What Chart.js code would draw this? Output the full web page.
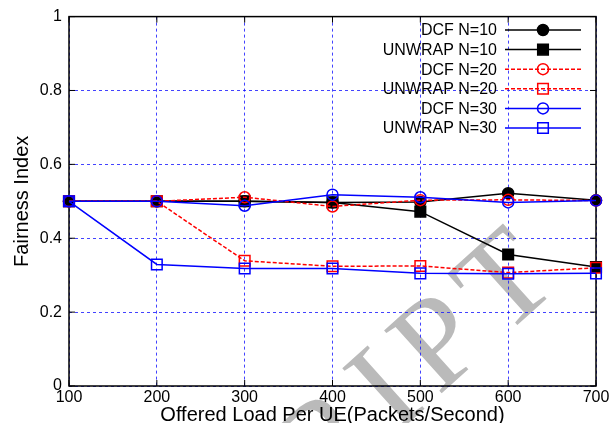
<!DOCTYPE html>
<html>
<head>
<meta charset="utf-8">
<script src="https://cdn.jsdelivr.net/npm/chart.js@4/dist/chart.umd.min.js"></script>
<style>
  html, body { margin: 0; padding: 0; background: #fff; }
  #wrap { width: 614px; height: 423px; }
</style>
</head>
<body>
<div id="wrap"><canvas id="fairness-chart"></canvas></div>
<script>
// offered load per UE (packets/second)
var loadValues = [100, 200, 300, 400, 500, 600, 700];
var yTicks = [0, 0.2, 0.4, 0.6, 0.8, 1];

var seriesNames = ['DCF N=10', 'UNWRAP N=10', 'DCF N=20', 'UNWRAP N=20', 'DCF N=30', 'UNWRAP N=30'];
var dcf10 = [0.5, 0.5, 0.5, 0.497, 0.498, 0.522, 0.503];
var unwrap10 = [0.5, 0.5, 0.5, 0.497, 0.472, 0.356, 0.322];
var dcf20 = [0.5, 0.5, 0.511, 0.486, 0.503, 0.504, 0.502];
var unwrap20 = [0.5, 0.5, 0.339, 0.324, 0.325, 0.307, 0.32];
var dcf30 = [0.5, 0.5, 0.488, 0.518, 0.511, 0.497, 0.502];
var unwrap30 = [0.5, 0.329, 0.318, 0.318, 0.305, 0.304, 0.305];

function toPoints(values) {
    return loadValues.map(function (x, i) { return { x: x, y: values[i] }; });
}

function makeDataset(index, values, color, marker, filled, dash) {
    return {
        label: seriesNames[index],
        data: toPoints(values),
        borderColor: color,
        backgroundColor: filled ? color : 'rgba(0,0,0,0)',
        borderWidth: 1.5,
        borderDash: dash,
        pointStyle: marker,
        pointRadius: marker === 'rect' ? 7.5 : 5.5,
        pointBorderWidth: 1.5,
        pointBackgroundColor: filled ? color : 'rgba(0,0,0,0)',
        pointBorderColor: color,
        pointHoverRadius: marker === 'rect' ? 7.5 : 5.5,
        tension: 0,
        fill: false,
        clip: false,
        order: 6 - index
    };
}

var FONT = "'Liberation Sans', Arial, Helvetica, sans-serif";

// white page plus the grey diagonal stamp underneath everything;
// letters are laid out backwards from the last one so the spacing can be opened up
var backdrop = {
    id: 'backdrop',
    beforeDraw: function (chart) {
        var ctx = chart.ctx;
        var stamp = 'USCRIPT';
        var gap = 14;
        ctx.save();
        ctx.fillStyle = '#fff';
        ctx.fillRect(0, 0, chart.width, chart.height);
        ctx.translate(532, 312);
        ctx.rotate(-42 * Math.PI / 180);
        ctx.font = "130px 'Liberation Serif', 'Times New Roman', serif";
        ctx.fillStyle = '#bababa';
        ctx.textAlign = 'center';
        ctx.textBaseline = 'alphabetic';
        var pos = 0;
        for (var i = stamp.length - 1; i >= 0; i--) {
            var w = ctx.measureText(stamp[i]).width;
            if (i < stamp.length - 1) {
                pos -= w / 2 + gap;
            }
            ctx.fillText(stamp[i], pos, 0);
            pos -= w / 2;
        }
        ctx.restore();
    }
};

// black box round the plot with small inward ticks on every side
var frame = {
    id: 'frame',
    beforeDatasetsDraw: function (chart) {
        var ctx = chart.ctx;
        var a = chart.chartArea;
        var xs = chart.scales.x, ys = chart.scales.y;
        ctx.save();
        ctx.strokeStyle = '#000';
        ctx.lineWidth = 1.5;
        ctx.setLineDash([]);
        ctx.strokeRect(a.left, a.top, a.right - a.left, a.bottom - a.top);
        ctx.lineWidth = 1;
        ctx.beginPath();
        loadValues.forEach(function (v) {
            var px = xs.getPixelForValue(v);
            ctx.moveTo(px, a.bottom); ctx.lineTo(px, a.bottom - 6);
            ctx.moveTo(px, a.top); ctx.lineTo(px, a.top + 6);
        });
        yTicks.forEach(function (v) {
            var py = ys.getPixelForValue(v);
            ctx.moveTo(a.left, py); ctx.lineTo(a.left + 6, py);
            ctx.moveTo(a.right, py); ctx.lineTo(a.right - 6, py);
        });
        ctx.stroke();
        ctx.restore();
    }
};

// gnuplot style key: right aligned text followed by a line sample with its marker
var key = {
    id: 'key',
    afterDatasetsDraw: function (chart) {
        var ctx = chart.ctx;
        ctx.save();
        ctx.font = '16px ' + FONT;
        ctx.textAlign = 'right';
        ctx.textBaseline = 'middle';
        chart.data.datasets.forEach(function (ds, i) {
            var y = 30 + i * 19.6;
            ctx.fillStyle = '#000';
            ctx.fillText(ds.label, 497, y + 1);
            ctx.strokeStyle = ds.borderColor;
            ctx.lineWidth = ds.borderWidth;
            ctx.setLineDash(ds.borderDash || []);
            ctx.beginPath();
            ctx.moveTo(505, y);
            ctx.lineTo(581, y);
            ctx.stroke();
            ctx.setLineDash([]);
            ctx.lineWidth = ds.pointBorderWidth;
            ctx.beginPath();
            if (ds.pointStyle === 'rect') {
                var s = ds.pointRadius * Math.SQRT1_2;
                ctx.rect(543 - s, y - s, 2 * s, 2 * s);
            } else {
                ctx.arc(543, y, ds.pointRadius, 0, Math.PI * 2);
            }
            if (ds.pointBackgroundColor !== 'rgba(0,0,0,0)') {
                ctx.fillStyle = ds.pointBackgroundColor;
                ctx.fill();
            }
            ctx.stroke();
        });
        ctx.restore();
    }
};

var ctx = document.getElementById('fairness-chart').getContext('2d');
var fairnessChart = new Chart(ctx, {
    type: 'line',
    data: {
        datasets: [
            makeDataset(0, dcf10, '#000000', 'circle', true, []),
            makeDataset(1, unwrap10, '#000000', 'rect', true, []),
            makeDataset(2, dcf20, '#ff0000', 'circle', false, [4, 2]),
            makeDataset(3, unwrap20, '#ff0000', 'rect', false, [4, 2]),
            makeDataset(4, dcf30, '#0000ff', 'circle', false, []),
            makeDataset(5, unwrap30, '#0000ff', 'rect', false, [])
        ]
    },
    options: {
        responsive: true,
        maintainAspectRatio: false,
        animation: false,
        events: [],
        layout: { padding: { left: 0, right: 18, top: 15, bottom: 0 } },
        plugins: {
            legend: { display: false },
            tooltip: { enabled: false }
        },
        scales: {
            x: {
                type: 'linear',
                min: 100,
                max: 700,
                afterBuildTicks: function (scale) {
                    scale.ticks = loadValues.map(function (v) { return { value: v }; });
                },
                afterFit: function (scale) { scale.height = 37; },
                ticks: {
                    color: '#000',
                    font: { family: FONT, size: 16 },
                    padding: 2,
                    maxRotation: 0,
                    autoSkip: false
                },
                grid: {
                    color: 'rgba(20,20,255,0.8)',
                    lineWidth: 1,
                    drawTicks: false
                },
                border: { display: false, dash: [3, 3] },
                title: {
                    display: true,
                    text: 'Offered Load Per UE(Packets/Second)',
                    color: '#000',
                    font: { family: FONT, size: 20, lineHeight: 0.8 },
                    padding: { top: 0, bottom: 0 }
                }
            },
            y: {
                min: 0,
                max: 1,
                afterBuildTicks: function (scale) {
                    scale.ticks = yTicks.map(function (v) { return { value: v }; });
                },
                afterFit: function (scale) { scale.width = 69; },
                ticks: {
                    color: '#000',
                    font: { family: FONT, size: 16 },
                    padding: 7,
                    callback: function (v) { return String(v); }
                },
                grid: {
                    color: 'rgba(20,20,255,0.8)',
                    lineWidth: 1,
                    drawTicks: false
                },
                border: { display: false, dash: [3, 3] },
                title: {
                    display: true,
                    text: 'Fairness Index',
                    color: '#000',
                    font: { family: FONT, size: 20, lineHeight: 1.2 },
                    padding: { top: 10, bottom: 0 }
                }
            }
        }
    },
    plugins: [backdrop, frame, key]
});
</script>
</body>
</html>
